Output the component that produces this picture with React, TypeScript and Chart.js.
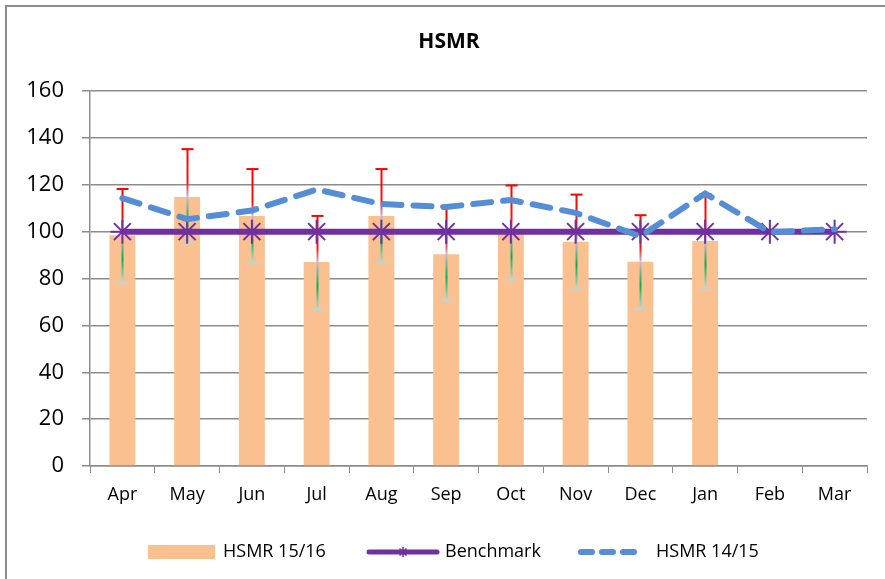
import React, { useEffect, useRef } from "react";
import { Chart, registerables } from "chart.js";

Chart.register(...registerables);

const months = ["Apr", "May", "Jun", "Jul", "Aug", "Sep", "Oct", "Nov", "Dec", "Jan", "Feb", "Mar"];
const hsmr1516 = [98.5, 114.8, 106.7, 87, 106.7, 90.4, 99.4, 95.7, 87.2, 96, null, null];
const errUpper = [118.2, 135.2, 126.7, 106.7, 126.7, 110.6, 119.7, 115.8, 107, 116, null, null];
const errLower = [78.2, 95, 86.7, 66.6, 86.7, 70.5, 79.4, 75.5, 67, 76, null, null];
const benchmark = [100, 100, 100, 100, 100, 100, 100, 100, 100, 100, 100, 100];
const hsmr1415 = [114.3, 105.3, 109, 118, 111.8, 110.5, 113.5, 108, 98, 116.3, 99.8, 101];

const FONT = "'Open Sans', 'DejaVu Sans', sans-serif";
const BAR_COLOR = "#FAC090";
const BENCH_COLOR = "#7030A0";
const DASH_COLOR = "#558ED5";

const errorBarPlugin = {
  id: "errorBars",
  afterDatasetDraw(chart: any, args: any) {
    if (args.index !== 0) return;
    const ctx = chart.ctx;
    const y = chart.scales.y;
    const meta = chart.getDatasetMeta(0);
    ctx.save();
    meta.data.forEach((el: any, i: number) => {
      const v = hsmr1516[i];
      const up = errUpper[i];
      const lo = errLower[i];
      if (v == null || up == null || lo == null) return;
      const x = Math.round(el.x) + 0.5;
      const yv = y.getPixelForValue(v);
      const yu = y.getPixelForValue(up);
      const yl = y.getPixelForValue(lo);
      ctx.lineWidth = 2;
      const g1 = ctx.createLinearGradient(0, yu, 0, yv);
      g1.addColorStop(0, "#FF0000");
      g1.addColorStop(0.7, "#FF1010");
      g1.addColorStop(1, "#C8B8D8");
      ctx.strokeStyle = g1;
      ctx.beginPath();
      ctx.moveTo(x, yu);
      ctx.lineTo(x, yv);
      ctx.stroke();
      ctx.strokeStyle = "#FF0000";
      ctx.beginPath();
      ctx.moveTo(x - 6, yu);
      ctx.lineTo(x + 6, yu);
      ctx.stroke();
      const g2 = ctx.createLinearGradient(0, yv, 0, yl);
      g2.addColorStop(0, "#C8B8D8");
      g2.addColorStop(0.5, "#00B050");
      g2.addColorStop(1, "#C0DADA");
      ctx.strokeStyle = g2;
      ctx.beginPath();
      ctx.moveTo(x, yv);
      ctx.lineTo(x, yl);
      ctx.stroke();
      ctx.strokeStyle = "#BCD6D6";
      ctx.beginPath();
      ctx.moveTo(x - 6, yl);
      ctx.lineTo(x + 6, yl);
      ctx.stroke();
    });
    ctx.restore();
  },
};

const decorPlugin = {
  id: "decor",
  afterDraw(chart: any) {
    const ctx = chart.ctx;
    ctx.save();
    ctx.strokeStyle = "#8C8C8C";
    ctx.lineWidth = 2;
    ctx.beginPath();
    ctx.moveTo(6, chart.height + 5);
    ctx.lineTo(6, 6);
    ctx.lineTo(chart.width + 5, 6);
    ctx.stroke();
    ctx.fillStyle = "#000";
    ctx.font = `bold 21px ${FONT}`;
    ctx.textAlign = "center";
    ctx.textBaseline = "middle";
    ctx.fillText("HSMR", 449, 42);
    const ly = 552;
    ctx.font = `18px ${FONT}`;
    ctx.textAlign = "left";
    ctx.fillStyle = BAR_COLOR;
    ctx.fillRect(148, 545, 67, 14);
    ctx.fillStyle = "#000";
    ctx.fillText("HSMR 15/16", 223, ly);
    ctx.strokeStyle = BENCH_COLOR;
    ctx.lineWidth = 5;
    ctx.lineCap = "round";
    ctx.beginPath();
    ctx.moveTo(369, ly);
    ctx.lineTo(437, ly);
    ctx.stroke();
    ctx.lineWidth = 1.5;
    ctx.lineCap = "butt";
    const sx = 403;
    const r = 5;
    ctx.beginPath();
    ctx.moveTo(sx, ly - r);
    ctx.lineTo(sx, ly + r);
    ctx.moveTo(sx - r * 0.7, ly - r * 0.7);
    ctx.lineTo(sx + r * 0.7, ly + r * 0.7);
    ctx.moveTo(sx - r * 0.7, ly + r * 0.7);
    ctx.lineTo(sx + r * 0.7, ly - r * 0.7);
    ctx.stroke();
    ctx.fillStyle = "#000";
    ctx.fillText("Benchmark", 445, ly);
    ctx.strokeStyle = DASH_COLOR;
    ctx.lineWidth = 6;
    ctx.lineCap = "round";
    ctx.setLineDash([11, 10]);
    ctx.beginPath();
    ctx.moveTo(581, ly);
    ctx.lineTo(640, ly);
    ctx.stroke();
    ctx.setLineDash([]);
    ctx.fillStyle = "#000";
    ctx.fillText("HSMR 14/15", 656, ly);
    ctx.restore();
  },
};

export default function App() {
  const ref = useRef<HTMLCanvasElement | null>(null);
  useEffect(() => {
    if (!ref.current) return;
    const chart = new Chart(ref.current, {
      type: "bar",
      data: {
        labels: months,
        datasets: [
          {
            type: "bar",
            label: "HSMR 15/16",
            data: hsmr1516 as any,
            backgroundColor: BAR_COLOR,
            borderWidth: 0,
            barPercentage: 0.4,
            categoryPercentage: 1,
            order: 3,
          },
          {
            type: "line",
            label: "Benchmark",
            data: benchmark,
            borderColor: BENCH_COLOR,
            backgroundColor: BENCH_COLOR,
            borderWidth: 6,
            pointStyle: "star",
            pointRadius: 12,
            pointBorderWidth: 2,
            pointBorderColor: BENCH_COLOR,
            tension: 0,
            order: 2,
          },
          {
            type: "line",
            label: "HSMR 14/15",
            data: hsmr1415,
            borderColor: DASH_COLOR,
            borderWidth: 6,
            borderDash: [18, 12],
            borderCapStyle: "round",
            pointRadius: 0,
            tension: 0,
            order: 1,
          },
        ],
      },
      options: {
        animation: false,
        responsive: true,
        maintainAspectRatio: false,
        layout: { padding: { top: 91, left: 0, right: 18, bottom: 73 } },
        plugins: {
          legend: { display: false },
          title: { display: false },
          tooltip: { enabled: false },
        },
        scales: {
          x: {
            offset: true,
            afterFit: (s: any) => {
              s.height = 40;
            },
            grid: {
              offset: true,
              drawOnChartArea: false,
              drawTicks: true,
              tickLength: 7,
              color: "#8C8C8C",
            },
            border: { display: true, color: "#8C8C8C", width: 1.5 },
            ticks: {
              color: "#000",
              font: { family: FONT, size: 18 },
              padding: 11,
            },
          },
          y: {
            min: 0,
            max: 160,
            afterFit: (s: any) => {
              s.width = 90;
            },
            grid: {
              color: "#8C8C8C",
              lineWidth: 1.5,
              tickLength: 8,
            },
            border: { display: true, color: "#8C8C8C", width: 1.5 },
            ticks: {
              stepSize: 20,
              color: "#000",
              font: { family: FONT, size: 22 },
              padding: 18,
            },
          },
        },
      },
      plugins: [errorBarPlugin, decorPlugin],
    });
    return () => chart.destroy();
  }, []);
  return (
    <div style={{ position: "absolute", left: 0, top: 0, width: 885, height: 579, background: "#fff" }}>
      <canvas ref={ref} />
    </div>
  );
}
